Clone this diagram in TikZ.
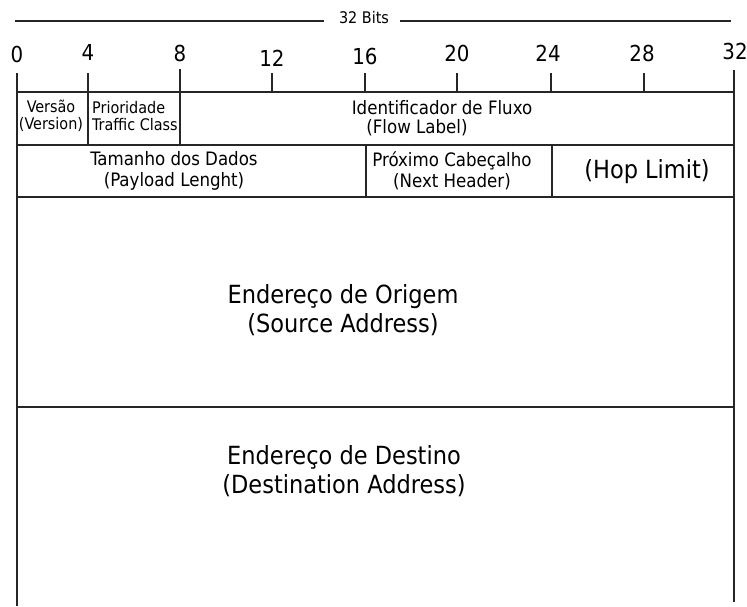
\documentclass[tikz,border=0pt]{standalone}
\usepackage{fontspec}
\setmainfont{DejaVu Sans Condensed}
\usetikzlibrary{positioning}

\begin{document}
\begin{tikzpicture}[x=1pt, y=-1pt,
    frame/.style   = {line width=1.3pt, draw=black!85},
    bitnum/.style  = {font=\fontsize{22}{24}\selectfont, inner sep=0pt},
    small/.style   = {font=\fontsize{16}{17.5}\selectfont, align=center, inner sep=1pt},
    field/.style   = {font=\fontsize{18.5}{20.5}\selectfont, align=center, inner sep=1pt},
    address/.style = {font=\fontsize{25}{29.5}\selectfont, align=center, inner sep=1pt}]

\useasboundingbox (0,0) rectangle (747,606);

% width marker
\node [font=\fontsize{16}{18}\selectfont, inner sep=0pt] (bits) at (364,18) {32 Bits};
\coordinate (bitsl) at (15,21);
\coordinate (bitsr) at (731,21);
\draw [frame, shorten >=15pt] (bitsl) -- (bitsl -| bits.west);
\draw [frame, shorten <=11pt] (bitsl -| bits.east) -- (bitsr);

% bit numbers
\foreach \n/\x/\y in {0/17/54, 4/88/52, 8/180/53, 12/272/58, 16/365/56,
                      20/457/53, 24/548/53, 28/642/53, 32/735/51}
  \node [bitnum] (b\n) at (\x,\y) {\n};

% ticks
\foreach \x in {88, 272, 365, 457, 551, 644}
  \draw [frame] (\x,73) -- (\x,92);
\draw [frame] (180,69) -- (180,92);

% frame and rows
\draw [frame] (17,73)  -- (17,606);
\draw [frame] (734,70) -- (734,602);
\draw [line width=2pt, draw=black!85] (17,92) -- (734,92);
\draw [frame] (17,145) -- (734,145);
\draw [frame] (17,197) -- (734,197);
\draw [frame] (17,407) -- (734,407);
\draw [frame] (88,92)   -- (88,145);
\draw [frame] (180,92)  -- (180,145);
\draw [frame] (366,145) -- (366,197);
\draw [frame] (552,145) -- (552,197);

% first row
\node [small                         ] (versao) at (51,116)  {Versão\\(Version)};
\node [small, align=left, anchor=west] (prio)   at (91,116)  {Prioridade\\Traffic Class};
\node [field, inner sep=0pt          ] (fluxo)  at (442,108) {Identificador de Fluxo};
\node [field, inner sep=0pt          ] (flow)   at (417,128) {(Flow Label)};

% second row
\node [field                         ] (tam)    at (174,171) {Tamanho dos Dados\\(Payload Lenght)};
\node [field                         ] (prox)   at (452,171) {Próximo Cabeçalho\\(Next Header)};
\node [address                       ] (hop)    at (647,172) {(Hop Limit)};

% addresses
\node [address                       ] (origem)  at (343,310) {Endereço de Origem\\(Source Address)};
\node [address                       ] (destino) at (344,471) {Endereço de Destino\\(Destination Address)};

\end{tikzpicture}
\end{document}
